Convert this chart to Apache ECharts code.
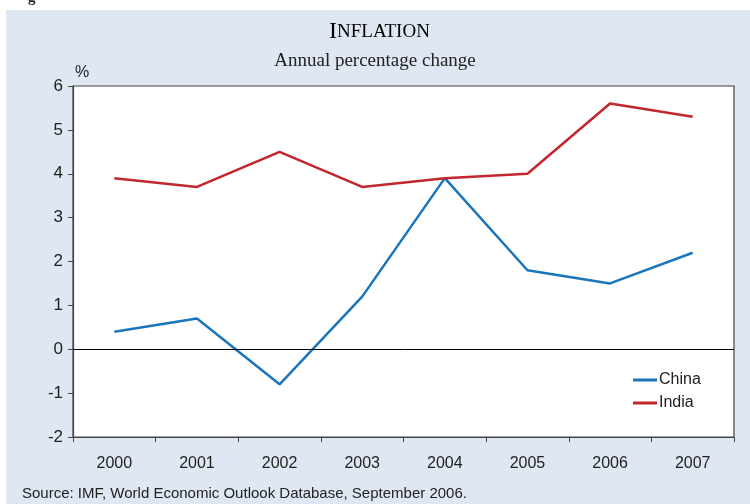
<!DOCTYPE html>
<html>
<head>
<meta charset="utf-8">
<script src="https://cdn.jsdelivr.net/npm/echarts@6/dist/echarts.min.js"></script>
<style>
html,body{margin:0;padding:0;background:#fff;}
#c{width:750px;height:504px;}
</style>
</head>
<body>
<div id="c"></div>
<script>
const years = ['2000','2001','2002','2003','2004','2005','2006','2007'];
const china = [0.4, 0.7, -0.8, 1.2, 3.9, 1.8, 1.5, 2.2];
const india = [3.9, 3.7, 4.5, 3.7, 3.9, 4.0, 5.6, 5.3];
const yTicks = [-2, -1, 0, 1, 2, 3, 4, 5, 6];

const chart = echarts.init(document.getElementById('c'), null, {renderer: 'canvas'});
const sans = 'Liberation Sans, Arial, sans-serif';
const serif = 'Liberation Serif, Times New Roman, serif';

chart.setOption({
  animation: false,
  backgroundColor: '#ffffff',
  graphic: [
    {type: 'rect', left: 6, top: 10, shape: {width: 744, height: 494}, style: {fill: '#dfe7f2'}, z: -10},
    {type: 'text', left: 28, top: -9, style: {text: 'g', font: 'bold 15px ' + serif, fill: '#222'}},
    {type: 'text', left: 329, top: 20, z: 10, style: {
      text: '{a|I}{b|NFLATION}',
      rich: {a: {fontFamily: serif, fontSize: 24, color: '#222'}, b: {fontFamily: serif, fontSize: 19, color: '#222'}}
    }},
    {type: 'text', left: 'center', top: 52, style: {text: 'Annual percentage change', font: '19px ' + serif, fill: '#222'}},
    {type: 'text', left: 75, top: 65, style: {text: '%', font: '16px ' + sans, fill: '#222'}},
    {type: 'text', left: 22, top: 486, style: {text: 'Source: IMF, World Economic Outlook Database, September 2006.', font: '15px ' + sans, fill: '#222'}}
  ],
  grid: {left: 73, right: 16, top: 86, bottom: 67, show: true, backgroundColor: '#ffffff', borderColor: '#444', borderWidth: 1.2},
  legend: {
    orient: 'vertical', left: 628, top: 367, itemWidth: 24, itemHeight: 3, itemGap: 7, icon: 'rect',
    textStyle: {fontFamily: sans, fontSize: 16, color: '#222', padding: [0,0,0,-3]},
    data: ['China', 'India']
  },
  xAxis: {
    type: 'category', data: years, boundaryGap: true,
    axisLine: {onZero: false, lineStyle: {color: '#444', width: 1.2}},
    axisTick: {show: true, length: 5, interval: 0, lineStyle: {color: '#444'}},
    axisLabel: {fontFamily: sans, fontSize: 16, color: '#222', margin: 19, interval: 0},
    splitLine: {show: false}
  },
  yAxis: {
    type: 'value', min: yTicks[0], max: yTicks[yTicks.length - 1], interval: 1,
    axisLine: {show: true, lineStyle: {color: '#444', width: 1.2}},
    axisTick: {show: true, length: 5, lineStyle: {color: '#444'}},
    axisLabel: {fontFamily: sans, fontSize: 17, color: '#222', margin: 10},
    splitLine: {show: false}
  },
  series: [
    {name: 'China', type: 'line', data: china, symbol: 'none', lineStyle: {color: '#1b75bb', width: 2.5}, itemStyle: {color: '#1b75bb'},
     markLine: {silent: true, symbol: 'none', label: {show: false}, lineStyle: {color: '#000', width: 1, type: 'solid'}, data: [{yAxis: 0}]}, z: 3},
    {name: 'India', type: 'line', data: india, symbol: 'none', lineStyle: {color: '#c1272d', width: 2.5}, itemStyle: {color: '#c1272d'}, z: 3}
  ]
});
</script>
</body>
</html>
